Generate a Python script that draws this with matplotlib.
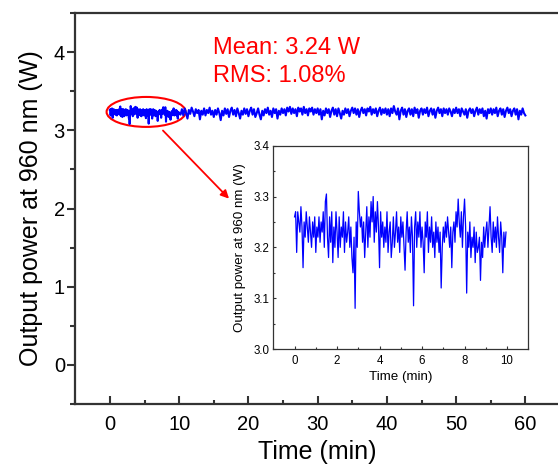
import numpy as np
import matplotlib
matplotlib.use("Agg")
import matplotlib.pyplot as plt
from matplotlib.patches import Ellipse
from matplotlib.ticker import MultipleLocator

plt.rcParams['font.family'] = ['Liberation Sans', 'DejaVu Sans']

# Inset data: first 10 min, 0.05 min steps
inset_time_step = 0.05
inset_power = [
    3.26, 3.27, 3.19, 3.27, 3.25, 3.23, 3.28, 3.24, 3.16, 3.25, 3.22, 3.27, 3.24, 3.21, 3.26, 3.23, 3.20, 3.25, 3.22, 3.26,
    3.19, 3.24, 3.22, 3.26, 3.21, 3.25, 3.23, 3.27, 3.20, 3.29, 3.305, 3.22, 3.18, 3.26, 3.21, 3.27, 3.17, 3.24, 3.20, 3.27,
    3.23, 3.18, 3.26, 3.20, 3.24, 3.22, 3.27, 3.19, 3.25, 3.21, 3.23, 3.26, 3.20, 3.24, 3.18, 3.15, 3.22, 3.08, 3.25, 3.20,
    3.31, 3.27, 3.24, 3.26, 3.21, 3.25, 3.18, 3.23, 3.28, 3.20, 3.26, 3.22, 3.29, 3.25, 3.30, 3.21, 3.27, 3.23, 3.29, 3.24,
    3.16, 3.27, 3.22, 3.25, 3.20, 3.24, 3.21, 3.27, 3.19, 3.23, 3.25, 3.18, 3.21, 3.26, 3.20, 3.23, 3.27, 3.21, 3.24, 3.19,
    3.26, 3.22, 3.25, 3.20, 3.155, 3.23, 3.27, 3.21, 3.24, 3.19, 3.26, 3.22, 3.085, 3.24, 3.27, 3.20, 3.25, 3.22, 3.27, 3.20,
    3.24, 3.21, 3.15, 3.25, 3.22, 3.27, 3.19, 3.24, 3.21, 3.26, 3.20, 3.23, 3.18, 3.25, 3.21, 3.24, 3.19, 3.23, 3.12, 3.20,
    3.24, 3.21, 3.25, 3.22, 3.26, 3.23, 3.20, 3.24, 3.16, 3.23, 3.25, 3.21, 3.27, 3.24, 3.295, 3.25, 3.22, 3.27, 3.20, 3.26,
    3.295, 3.24, 3.11, 3.23, 3.20, 3.25, 3.18, 3.22, 3.20, 3.24, 3.17, 3.23, 3.19, 3.20, 3.22, 3.135, 3.21, 3.18, 3.24, 3.20,
    3.23, 3.25, 3.20, 3.24, 3.28, 3.22, 3.19, 3.25, 3.21, 3.24, 3.20, 3.26, 3.22, 3.19, 3.25, 3.22, 3.15, 3.23, 3.20, 3.23,
]

# Remaining 10-60 min, 0.2 min steps
rest_time_step = 0.2
rest_power = [
    3.20, 3.27, 3.19, 3.28, 3.22, 3.15, 3.26, 3.21, 3.29, 3.24, 3.18, 3.27, 3.22, 3.26, 3.14, 3.25, 3.20, 3.28, 3.19, 3.26, 3.22, 3.29, 3.20, 3.25, 3.17,
    3.26, 3.20, 3.28, 3.22, 3.13, 3.25, 3.19, 3.28, 3.21, 3.27, 3.17, 3.25, 3.29, 3.20, 3.26, 3.18, 3.28, 3.22, 3.15, 3.25, 3.20, 3.28, 3.21, 3.27, 3.18,
    3.25, 3.29, 3.20, 3.27, 3.17, 3.22, 3.28, 3.20, 3.14, 3.25, 3.19, 3.27, 3.22, 3.29, 3.20, 3.25, 3.17, 3.28, 3.22, 3.27, 3.15, 3.25, 3.20, 3.28, 3.22,
    3.27, 3.19, 3.29, 3.24, 3.30, 3.21, 3.28, 3.22, 3.27, 3.18, 3.29, 3.24, 3.28, 3.20, 3.30, 3.22, 3.27, 3.19, 3.28, 3.24, 3.29, 3.20, 3.27, 3.22, 3.28,
    3.20, 3.27, 3.14, 3.25, 3.19, 3.28, 3.22, 3.27, 3.17, 3.25, 3.29, 3.20, 3.27, 3.18, 3.28, 3.22, 3.15, 3.25, 3.20, 3.28, 3.22, 3.27, 3.18, 3.25, 3.29,
    3.22, 3.28, 3.20, 3.27, 3.17, 3.25, 3.29, 3.22, 3.27, 3.19, 3.28, 3.24, 3.30, 3.20, 3.27, 3.22, 3.28, 3.18, 3.25, 3.29, 3.20, 3.27, 3.22, 3.28, 3.20,
    3.27, 3.18, 3.28, 3.22, 3.31, 3.24, 3.20, 3.28, 3.14, 3.25, 3.29, 3.20, 3.27, 3.17, 3.25, 3.28, 3.20, 3.27, 3.18, 3.29, 3.22, 3.27, 3.16, 3.25, 3.28,
    3.20, 3.27, 3.22, 3.29, 3.18, 3.25, 3.28, 3.20, 3.27, 3.16, 3.25, 3.29, 3.22, 3.27, 3.18, 3.28, 3.22, 3.27, 3.20, 3.28, 3.24, 3.18, 3.27, 3.22, 3.29,
    3.22, 3.27, 3.18, 3.28, 3.24, 3.20, 3.27, 3.16, 3.25, 3.28, 3.22, 3.27, 3.18, 3.25, 3.29, 3.20, 3.27, 3.22, 3.28, 3.18, 3.25, 3.15, 3.27, 3.22, 3.28,
    3.20, 3.27, 3.22, 3.29, 3.18, 3.25, 3.28, 3.20, 3.27, 3.17, 3.25, 3.29, 3.22, 3.27, 3.18, 3.25, 3.28, 3.20, 3.27, 3.14, 3.25, 3.20, 3.28, 3.22, 3.19,
]

main_xticks = [0, 10, 20, 30, 40, 50, 60]
main_yticks = [0, 1, 2, 3, 4]
inset_xticks = [0, 2, 4, 6, 8, 10]
inset_yticks = [3.0, 3.1, 3.2, 3.3, 3.4]
annot_lines = ["Mean: 3.24 W", "RMS: 1.08%"]

inset_t = np.arange(len(inset_power)) * inset_time_step
rest_t = 10.0 + rest_time_step * (np.arange(len(rest_power)) + 1)
main_t = np.concatenate([inset_t, rest_t])
main_p = np.concatenate([inset_power, rest_power])

W, H = 558, 468
fig = plt.figure(figsize=(W / 100, H / 100), dpi=100)

# main axes (right edge cropped just beyond figure)
l, r, b, t = 75.3, 560, 404, 13
ax = fig.add_axes([l / W, 1 - b / H, (r - l) / W, (b - t) / H])
ax.plot(main_t, main_p, color='#0000ff', lw=1.5)
ax.set_xlim(-5, 65)
ax.set_ylim(-0.5, 4.5)
ax.set_xticks(main_xticks)
ax.set_yticks(main_yticks)
ax.xaxis.set_minor_locator(MultipleLocator(5))
ax.yaxis.set_minor_locator(MultipleLocator(0.5))
ax.spines['right'].set_visible(False)
for s in ['left', 'bottom', 'top']:
    ax.spines[s].set_linewidth(1.6)
    ax.spines[s].set_color('#333333')
ax.tick_params(axis='x', which='major', direction='in', length=5.5, width=1.5,
               labelsize=14.5, pad=8, color='#333333')
ax.tick_params(axis='x', which='minor', direction='in', length=3, width=1.5, color='#333333')
ax.tick_params(axis='y', which='major', direction='out', length=6, width=1.5,
               labelsize=14.5, pad=1.5, color='#333333')
ax.tick_params(axis='y', which='minor', direction='out', length=3.5, width=1.5, color='#333333')
ax.set_xlabel("Time (min)", fontsize=18, labelpad=4)
ax.set_ylabel("Output power at 960 nm (W)", fontsize=18, labelpad=8)

ax.text(14.9, 3.98, annot_lines[0], color='red', fontsize=17, ha='left', va='baseline')
ax.text(14.9, 3.62, annot_lines[1], color='red', fontsize=17, ha='left', va='baseline')

ell = Ellipse((5.23, 3.235), 11.42, 0.383, fill=False, edgecolor='red', lw=1.5)
ax.add_patch(ell)
ax.annotate("", xy=(17.2, 2.126), xytext=(7.66, 2.997),
            arrowprops=dict(arrowstyle='-|>', color='red', lw=1.3,
                            mutation_scale=12, shrinkA=0, shrinkB=0))

# inset axes
il, ir, ib, it = 273.3, 528.3, 349, 145.7
ins = fig.add_axes([il / W, 1 - ib / H, (ir - il) / W, (ib - it) / H])
ins.plot(inset_t, inset_power, color='#0000ff', lw=0.9)
ins.set_xlim(-1, 11)
ins.set_ylim(3.0, 3.4)
ins.set_xticks(inset_xticks)
ins.set_yticks(inset_yticks)
ins.set_yticklabels([f"{v:.1f}" for v in inset_yticks])
ins.xaxis.set_minor_locator(MultipleLocator(1))
ins.yaxis.set_minor_locator(MultipleLocator(0.05))
for s in ins.spines.values():
    s.set_linewidth(0.9)
    s.set_color('#333333')
ins.tick_params(which='major', direction='in', length=2.5, width=0.8, labelsize=8.3,
                color='#333333')
ins.tick_params(which='minor', direction='in', length=1.5, width=0.8, color='#333333')
ins.tick_params(axis='x', pad=4)
ins.tick_params(axis='y', pad=3)
ins.set_xlabel("Time (min)", fontsize=9.6, labelpad=3)
ins.set_ylabel("Output power at 960 nm (W)", fontsize=9.6, labelpad=5)

fig.savefig("out.png", dpi=100)
